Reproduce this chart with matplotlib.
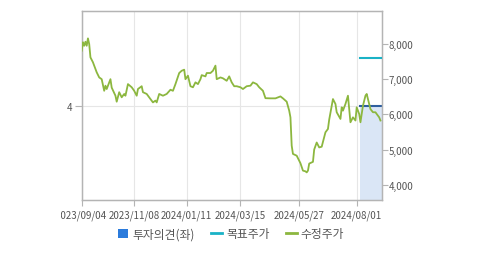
import matplotlib
matplotlib.use("Agg")
import matplotlib.pyplot as plt
from matplotlib.lines import Line2D
from matplotlib.patches import Patch
from matplotlib.transforms import Bbox, TransformedBbox

plt.rcParams["font.family"] = ["Noto Sans CJK KR", "DejaVu Sans"]
plt.rcParams["font.size"] = 7

# Data (trading-day index) ===========================================
DAYS = [0, 1, 2, 3, 4, 5, 6, 7, 9, 12, 14, 16, 18, 19, 20, 23, 24, 27, 28, 30,
        32, 34, 35, 37, 40, 42, 44, 45, 48, 49, 52, 55, 57, 59, 60, 62, 65, 68,
        71, 73, 75, 78, 80, 82, 83, 85, 87, 89, 91, 93, 95, 96, 99, 100, 103,
        105, 107, 108, 111, 113, 116, 118, 120, 122, 124, 127, 129, 132, 135,
        137, 140, 142, 145, 147, 151, 155, 159, 161, 164, 166, 167, 168, 169,
        172, 175, 177, 179, 180, 181, 182, 185, 186, 188, 190, 192, 195, 197,
        198, 201, 203, 204, 207, 208, 209, 211, 213, 215, 217, 219, 220, 222,
        223, 225, 227, 228, 229, 231, 233, 235, 236, 238, 239]
PRICE = [7810, 8050, 7950, 8065, 7950, 8160, 8000, 7620, 7480, 7195, 7050, 7000,
         6670, 6815, 6720, 7000, 6760, 6530, 6360, 6630, 6485, 6580, 6530, 6860,
         6770, 6670, 6530, 6720, 6800, 6630, 6580, 6435, 6340, 6390, 6340, 6580,
         6530, 6580, 6700, 6670, 6860, 7175, 7240, 7270, 7000, 7100, 6800, 6770,
         6910, 6860, 7000, 7115, 7080, 7175, 7175, 7240, 7385, 7000, 7050, 7025,
         6955, 7080, 6910, 6800, 6800, 6770, 6720, 6800, 6815, 6910, 6860, 6770,
         6670, 6460, 6455, 6455, 6510, 6455, 6360, 6105, 5915, 5110, 4875, 4825,
         4610, 4400, 4380, 4350, 4400, 4600, 4650, 5000, 5200, 5060, 5080, 5490,
         5585, 5850, 6435, 6295, 6060, 5870, 6200, 6105, 6295, 6530, 5775, 5915,
         5825, 6200, 6010, 5775, 6245, 6530, 6580, 6435, 6150, 6060, 6060, 6010,
         5915, 5825]

OPINION_DAYS = [223, 240]
OPINION = [4, 4]
TARGET_DAYS = [223, 240]
TARGET = [7600, 7600]

TICK_DAYS = [0, 42, 84, 127, 174, 220]
TICK_LABELS = ["2023/09/04", "2023/11/08", "2024/01/11", "2024/03/15",
               "2024/05/27", "2024/08/01"]

GREEN = "#8cb73f"
CYAN = "#1ab2c6"
NAVY = "#2f5f9e"
FILL = "#dae6f6"
SQUARE = "#2b7bdc"
TXT = "#555555"
EDGE = "#b4b4b4"

# Figure ==============================================================
fig = plt.figure(figsize=(4.79, 2.55), dpi=100)
ax = fig.add_axes([81.7 / 479, 1 - 201 / 255, 300 / 479, (201 - 12.3) / 255])
ax2 = ax.twinx()

# investment opinion (left axis)
ax.fill_between(OPINION_DAYS, 3, OPINION, color=FILL, lw=0, zorder=1)
ax.plot(OPINION_DAYS, OPINION, color=NAVY, lw=1.5, zorder=2)
ax.set_ylim(3, 5)
ax.set_yticks([4])
ax.set_xlim(0, 240)
ax.set_xticks(TICK_DAYS)
ax.set_xticklabels(TICK_LABELS)
ax.grid(True, color="#e6e6e6", lw=0.8)
ax.set_axisbelow(True)

# prices (right axis)
ax2.plot(DAYS, PRICE, color=GREEN, lw=1.3, zorder=3)
ax2.plot(TARGET_DAYS, TARGET, color=CYAN, lw=1.5, zorder=3)
ax2.set_ylim(3565, 8930)
ax2.set_yticks([4000, 5000, 6000, 7000, 8000])
ax2.set_yticklabels(["4,000", "5,000", "6,000", "7,000", "8,000"])

for a in (ax, ax2):
    for s in a.spines.values():
        s.set_color(EDGE)
        s.set_linewidth(0.9)
    a.tick_params(colors=EDGE, labelcolor=TXT, length=4, width=0.8)
ax.tick_params(axis="x", pad=3)
ax.tick_params(axis="y", pad=2, length=5)
ax2.tick_params(axis="y", pad=1)

# first date label is cut off on the left in the original
clip = TransformedBbox(Bbox.from_extents(61 / 479, 0, 1, 1), fig.transFigure)
first = ax.get_xticklabels()[0]
first.set_clip_box(clip)
first.set_clip_on(True)

handles = [
    Patch(facecolor=SQUARE, edgecolor="none"),
    Line2D([], [], color=CYAN, lw=2),
    Line2D([], [], color=GREEN, lw=2),
]
fig.legend(handles, ["투자의견(좌)", "목표주가", "수정주가"], loc="center",
           bbox_to_anchor=(0.482, 1 - 235 / 255), ncol=3, frameon=False,
           fontsize=8.5, handlelength=0.9, handleheight=0.9, handletextpad=0.35,
           columnspacing=1.4, labelcolor=TXT)

fig.savefig("out.png", dpi=100)
